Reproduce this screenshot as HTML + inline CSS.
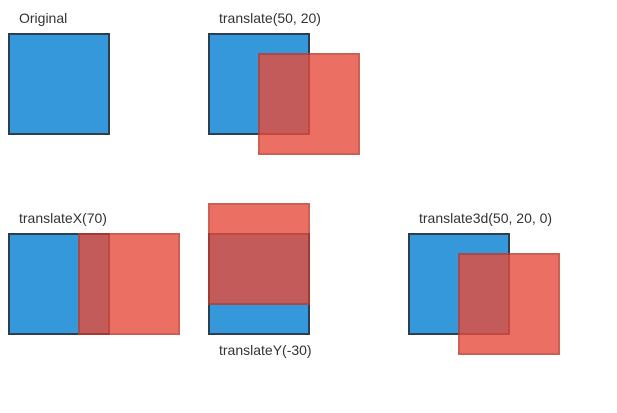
<!DOCTYPE html>
<html><head><meta charset="utf-8"><style>
body{margin:0;background:#fff;}
svg{display:block;font-family:"Liberation Sans",sans-serif;}
</style></head><body>
<svg width="617" height="413" id="chart"></svg>
<script>
const labels=["Original","translate(50, 20)","translateX(70)","translateY(-30)","translate3d(50, 20, 0)"];
const dx=[null,50,70,0,50];
const dy=[null,20,0,-30,20];
const origins=[[9,34],[209,34],[9,234],[209,234],[409,234]];
const labelBelow=[false,false,false,true,false];
const NS="http://www.w3.org/2000/svg";
const svg=document.getElementById('chart');
const size=100;
function mk(t,a){const e=document.createElementNS(NS,t);for(const k in a)e.setAttribute(k,a[k]);return e;}
labels.forEach((lab,i)=>{
  const [ox,oy]=origins[i];
  const g=mk('g',{});
  
  
  const b=mk('rect',{x:ox,y:oy,width:size,height:size,fill:'#3498db',stroke:'#2c3e50','stroke-width':2});
  
  
  g.appendChild(b);
  if(dx[i]!==null){
    const r=mk('rect',{x:ox+dx[i],y:oy+dy[i],width:size,height:size,fill:'#e74c3c',stroke:'#c0392b','stroke-width':2,opacity:0.8});
    
    
    g.appendChild(r);
  }
  const t=mk('text',{x:ox+10,y:labelBelow[i]?oy+121:oy-11,'font-size':14,fill:'#333'});
  t.textContent=lab;
  
  
  g.appendChild(t);
  svg.appendChild(g);
});
</script>
</body></html>
